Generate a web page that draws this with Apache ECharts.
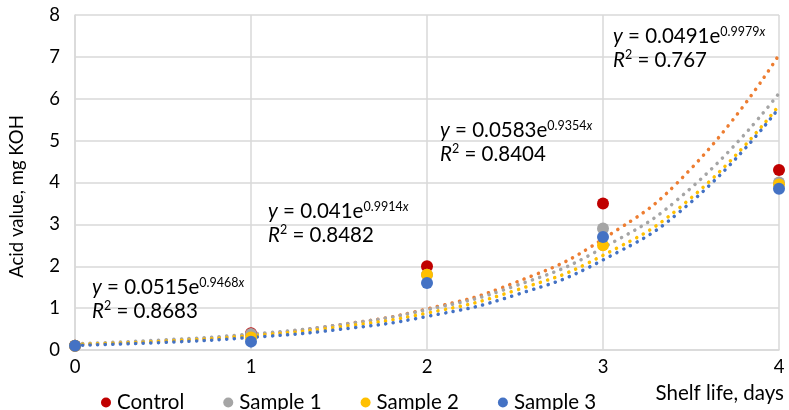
<!DOCTYPE html>
<html><head><meta charset="utf-8">
<script src="https://cdn.jsdelivr.net/npm/echarts@6/dist/echarts.min.js"></script>
<style>html,body{margin:0;padding:0;background:#fff}#c{width:789px;height:410px}</style>
</head><body><div id="c"></div>
<script>
const days = [0, 1, 2, 3, 4];
const seriesNames = ['Control', 'Sample 1', 'Sample 2', 'Sample 3'];
const control = [0.1, 0.4, 2.0, 3.5, 4.3];
const sample1 = [0.1, 0.38, 1.8, 2.9, 4.0];
const sample2 = [0.1, 0.3, 1.8, 2.5, 3.95];
const sample3 = [0.1, 0.2, 1.6, 2.7, 3.85];
// trendlines
const trendX = [0, 0.5, 1, 1.5, 2, 2.5, 3, 3.5, 4];
const trendControl = [0.13, 0.22, 0.36, 0.60, 0.98, 1.61, 2.65, 4.33, 7.05];
const trendSample1 = [0.15, 0.24, 0.38, 0.60, 0.96, 1.53, 2.44, 3.87, 6.13];
const trendSample2 = [0.13, 0.21, 0.34, 0.55, 0.88, 1.42, 2.26, 3.63, 5.84];
const trendSample3 = [0.11, 0.18, 0.30, 0.49, 0.80, 1.31, 2.15, 3.53, 5.78];
const equations = [
  ['0.0515', '0.9468', '0.8683'],
  ['0.041', '0.9914', '0.8482'],
  ['0.0583', '0.9354', '0.8404'],
  ['0.0491', '0.9979', '0.767']
];
const yTicks = [0, 1, 2, 3, 4, 5, 6, 7, 8];

const pointColors = ['#c00000', '#a5a5a5', '#ffc000', '#4472c4'];
const trendColors = ['#ed7d31', '#a5a5a5', '#ffc000', '#4472c4'];
const pointData = [control, sample1, sample2, sample3];
const trendData = [trendControl, trendSample1, trendSample2, trendSample3];
const FONT = 'Lato';

const chart = echarts.init(document.getElementById('c'), null, {renderer: 'canvas'});
const series = [];
trendData.forEach((arr, i) => {
  series.push({
    type: 'line', name: 'trend' + i, smooth: true, showSymbol: false, silent: true,
    data: trendX.map((x, k) => [x, arr[k]]),
    lineStyle: {color: trendColors[i], width: 3.5, type: [0.1, 7.5], cap: 'round'},
    z: 3
  });
});
pointData.forEach((arr, i) => {
  series.push({
    type: 'scatter', name: seriesNames[i], symbol: 'circle', symbolSize: 12,
    data: days.map((d, k) => [d, arr[k]]),
    itemStyle: {color: pointColors[i], opacity: 1}, z: 4
  });
});

const annPos = [[92, 276], [268, 200], [440, 119], [613, 25]];
const LH = 23.5;
const graphics = equations.map((e, i) => ({
  type: 'text', left: annPos[i][0], top: annPos[i][1], z: 10,
  style: {
    text: '{i|y}{n| = ' + e[0] + 'e}{s|' + e[1] + '}{si|x}\n{i|R}{s|2}{n| = ' + e[2] + '}',
    rich: {
      i: {fontFamily: FONT, fontSize: 20.5, fontStyle: 'italic', fill: '#000', lineHeight: LH},
      n: {fontFamily: FONT, fontSize: 20.5, fill: '#000', lineHeight: LH},
      s: {fontFamily: FONT, fontSize: 12.5, fill: '#000', lineHeight: 16, verticalAlign: 'top'},
      si: {fontFamily: FONT, fontSize: 12.5, fontStyle: 'italic', fill: '#000', lineHeight: 16, verticalAlign: 'top'}
    }
  }
}));

chart.setOption({
  animation: false,
  backgroundColor: '#fff',
  grid: {left: 72, right: 10, top: 15, bottom: 60, containLabel: false},
  legend: {
    data: seriesNames, left: 96, top: 387, icon: 'circle', itemWidth: 10, itemHeight: 10, itemGap: 39,
    textStyle: {fontFamily: FONT, fontSize: 20.5, color: '#000', padding: [0, 0, 0, 1]}
  },
  xAxis: {
    type: 'value', min: 0, max: 4, interval: 1,
    name: 'Shelf life, days', nameLocation: 'end', nameGap: 0,
    nameTextStyle: {fontFamily: FONT, fontSize: 20.5, color: '#000', align: 'right', verticalAlign: 'top', padding: [33, -5, 0, 0]},
    axisLine: {show: true, lineStyle: {color: '#d9d9d9', width: 1.5}},
    axisTick: {show: false},
    axisLabel: {fontFamily: FONT, fontSize: 18.5, color: '#000', margin: 8},
    splitLine: {show: true, lineStyle: {color: '#d9d9d9', width: 1.5}}
  },
  yAxis: {
    type: 'value', min: yTicks[0], max: yTicks[yTicks.length - 1], interval: 1,
    name: 'Acid value, mg KOH', nameLocation: 'middle', nameGap: 48,
    nameTextStyle: {fontFamily: FONT, fontSize: 18.5, color: '#000', padding: [0, 28, 0, 0]},
    axisLine: {show: true, lineStyle: {color: '#d9d9d9', width: 1.5}},
    axisTick: {show: false},
    axisLabel: {fontFamily: FONT, fontSize: 18.5, color: '#000', margin: 15},
    splitLine: {show: true, lineStyle: {color: '#d9d9d9', width: 1.5}}
  },
  series: series,
  graphic: graphics
});
</script></body></html>
